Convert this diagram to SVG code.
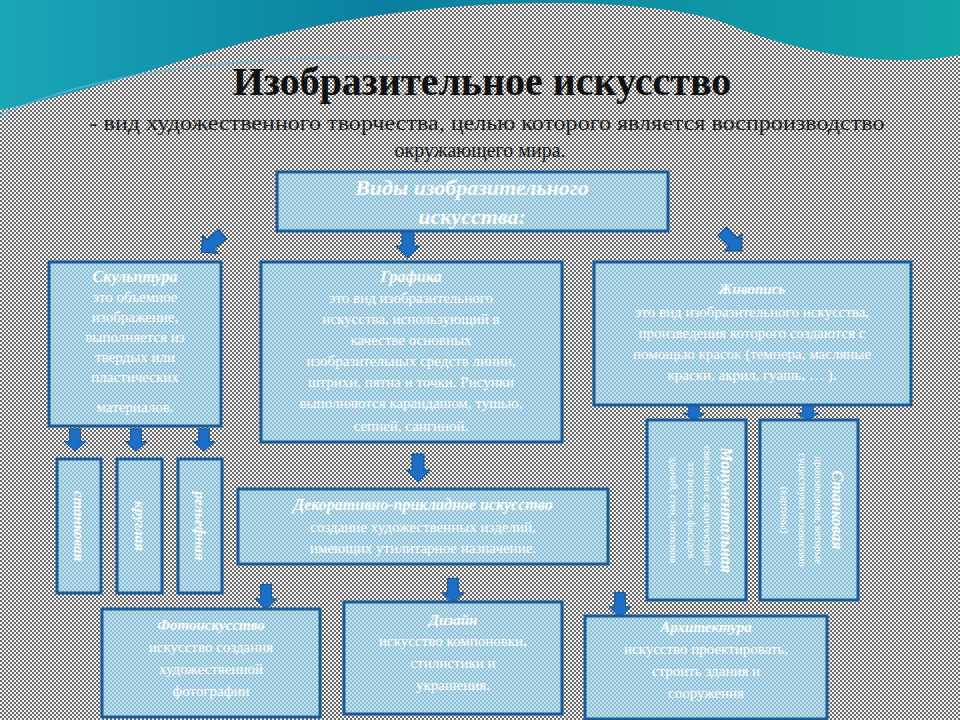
<svg xmlns="http://www.w3.org/2000/svg" width="960" height="720" viewBox="0 0 960 720">
<defs>
<pattern id="chk" width="4" height="4" patternUnits="userSpaceOnUse"><rect width="4" height="4" fill="#f2f2f2"/><rect width="2" height="2" fill="#6a6a6a"/><rect x="2" y="2" width="2" height="2" fill="#6a6a6a"/></pattern>
<pattern id="bx" width="4" height="4" patternUnits="userSpaceOnUse"><rect width="4" height="4" fill="#bfe0ec"/><rect width="2" height="2" fill="#8fbfd4"/><rect x="2" y="2" width="2" height="2" fill="#8fbfd4"/></pattern>
<linearGradient id="wave" x1="0" y1="0" x2="1" y2="0"><stop offset="0" stop-color="#1aa7b8"/><stop offset="0.4" stop-color="#0a7fa0"/><stop offset="1" stop-color="#12a6a8"/></linearGradient>
<g id="arrD"><path d="M-6,-14 H6 V2 H12 L0,14 L-12,2 H-6 Z" fill="#1c6fc4" stroke="#0d4f93" stroke-width="1"/></g>
<style>
.box{fill:url(#bx);stroke:#1a5c98;stroke-width:3}
.t{font-family:"Liberation Serif",serif;fill:#fff;text-anchor:middle}
.h{font-weight:bold;font-style:italic}
.v{font-family:"Liberation Serif",serif;fill:#fff;text-anchor:middle;font-size:11px}
</style>
</defs>
<rect width="960" height="720" fill="url(#chk)"/>
<path d="M0,0 H250 C200,30 120,60 0,110 Z" fill="url(#wave)"/>
<path d="M230,0 H960 V60 C880,75 790,55 730,30 C690,12 600,2 480,8 C380,14 300,30 230,50 Z" fill="#e8e8e8" opacity="0"/>
<path d="M0,0 H960 V55 C880,70 790,50 730,25 C690,8 600,0 500,4 C400,8 300,25 200,55 C120,80 50,100 0,110 Z" fill="url(#wave)"/>
<path d="M230,0 C260,10 330,12 420,4 C600,-6 680,0 710,10 L710,0 Z" fill="url(#chk)" opacity="0"/>
<path d="M0,115 C100,70 250,55 400,58" stroke="#6fb5d8" stroke-width="2" fill="none" opacity="0.6"/>
<text x="482" y="95" font-family="Liberation Serif,serif" font-weight="bold" font-size="40" text-anchor="middle" fill="#111">Изобразительное искусство</text>
<text x="487" y="130" font-family="Liberation Serif,serif" font-size="20" text-anchor="middle" fill="#222" textLength="795" lengthAdjust="spacingAndGlyphs">- вид художественного творчества, целью которого является воспроизводство</text>
<text x="480" y="157" font-family="Liberation Serif,serif" font-size="20" text-anchor="middle" fill="#222">окружающего мира.</text>

<g id="connectors">
<use href="#arrD" transform="translate(212,243) rotate(50)"/>
<use href="#arrD" transform="translate(408,244)"/>
<use href="#arrD" transform="translate(732,241) rotate(-45)"/>
<use href="#arrD" transform="translate(75,440) scale(0.9,0.8)"/>
<use href="#arrD" transform="translate(136,440) scale(0.9,0.8)"/>
<use href="#arrD" transform="translate(204,440) scale(0.9,0.8)"/>
<use href="#arrD" transform="translate(418,468)"/>
<use href="#arrD" transform="translate(694,412) scale(0.9,0.6)"/>
<use href="#arrD" transform="translate(808,412) scale(0.9,0.6)"/>
<use href="#arrD" transform="translate(266,597) scale(0.9,0.9)"/>
<use href="#arrD" transform="translate(453,591) scale(0.9,0.9)"/>
<use href="#arrD" transform="translate(620,605) scale(0.9,0.9)"/>
</g>

<g id="n-types"><rect class="box" x="277" y="172" width="391" height="59"/>
<text class="t h" x="472" y="195" style="font-size:22px">Виды изобразительного</text>
<text class="t h" x="472" y="224" style="font-size:22px">искусства:</text></g>

<g id="n-sculpt" style="font-size:15px"><rect class="box" x="49" y="262" width="172" height="164"/>
<text class="t h" x="135" y="282" style="font-size:16px">Скульптура</text>
<text class="t" x="135" y="302">это объемное</text><text class="t" x="135" y="322">изображение,</text><text class="t" x="135" y="342">выполняется из</text><text class="t" x="135" y="362">твердых или</text><text class="t" x="135" y="382">пластических</text><text class="t" x="135" y="412">материалов.</text></g>

<g id="n-graph" style="font-size:15px"><rect class="box" x="261" y="262" width="301" height="180"/>
<text class="t h" x="411" y="282" style="font-size:16px">Графика</text>
<text class="t" x="411" y="303">это вид изобразительного</text><text class="t" x="411" y="324">искусства, использующий в</text><text class="t" x="411" y="345">качестве основных</text><text class="t" x="411" y="366">изобразительных средств линии,</text><text class="t" x="411" y="387">штрихи, пятна и точки. Рисунки</text><text class="t" x="411" y="408">выполняются карандашом, тушью,</text><text class="t" x="411" y="431">сепией, сангиной.</text></g>

<g id="n-paint" style="font-size:15px"><rect class="box" x="594" y="262" width="317" height="143"/>
<text class="t h" x="752" y="294">Живопись</text>
<text class="t" x="752" y="317">это вид изобразительного искусства,</text><text class="t" x="752" y="338">произведения которого создаются с</text><text class="t" x="752" y="359">помощью красок (темпера, масляные</text><text class="t" x="752" y="380">краски, акрил, гуашь, … ).</text></g>

<g id="n-s1" style="font-size:15px"><rect class="box" x="57" y="459" width="44" height="134"/><text class="t h" transform="translate(79,526) rotate(90)" x="0" y="5">станковая</text></g>
<g id="n-s2" style="font-size:15px"><rect class="box" x="117" y="459" width="45" height="134"/><text class="t h" transform="translate(140,526) rotate(90)" x="0" y="5">круглая</text></g>
<g id="n-s3" style="font-size:15px"><rect class="box" x="178" y="459" width="44" height="134"/><text class="t h" transform="translate(200,526) rotate(90)" x="0" y="5">рельефная</text></g>

<g id="n-mon"><rect class="box" x="647" y="420" width="99" height="180"/>
<g transform="translate(696,510) rotate(90)"><text class="t h" x="0" y="-25" style="font-size:16px">Монументальная</text><text class="v" x="0" y="-8">связанная с архитектурой –</text><text class="v" x="0" y="8">это роспись фасадов</text><text class="v" x="0" y="26">зданий, стен, потолков</text></g></g>
<g id="n-stan"><rect class="box" x="760" y="420" width="98" height="180"/>
<g transform="translate(809,510) rotate(90)"><text class="t h" x="0" y="-23" style="font-size:16px">Станковая</text><text class="v" x="0" y="-6">произведения, которые</text><text class="v" x="0" y="10">существуют независимо</text><text class="v" x="0" y="28">(картины)</text></g></g>

<g id="n-deco" style="font-size:15px"><rect class="box" x="238" y="489" width="370" height="75"/>
<text class="t h" x="423" y="510" style="font-size:16px">Декоративно-прикладное искусство</text>
<text class="t" x="423" y="532">создание художественных изделий,</text><text class="t" x="423" y="553">имеющих утилитарное назначение.</text></g>

<g id="n-photo" style="font-size:15px"><rect class="box" x="102" y="609" width="218" height="108"/>
<text class="t h" x="211" y="630">Фотоискусство</text><text class="t" x="211" y="652">искусство создания</text><text class="t" x="211" y="674">художественной</text><text class="t" x="211" y="696">фотографии</text></g>
<g id="n-design" style="font-size:15px"><rect class="box" x="344" y="602" width="218" height="112"/>
<text class="t h" x="453" y="625">Дизайн</text><text class="t" x="453" y="646">искусство компоновки,</text><text class="t" x="453" y="668">стилистики и</text><text class="t" x="453" y="690">украшения.</text></g>
<g id="n-arch" style="font-size:15px"><rect class="box" x="585" y="616" width="242" height="103"/>
<text class="t h" x="706" y="632">Архитектура</text><text class="t" x="706" y="654">искусство проектировать,</text><text class="t" x="706" y="676">строить здания и</text><text class="t" x="706" y="698">сооружения</text></g>
</svg>
